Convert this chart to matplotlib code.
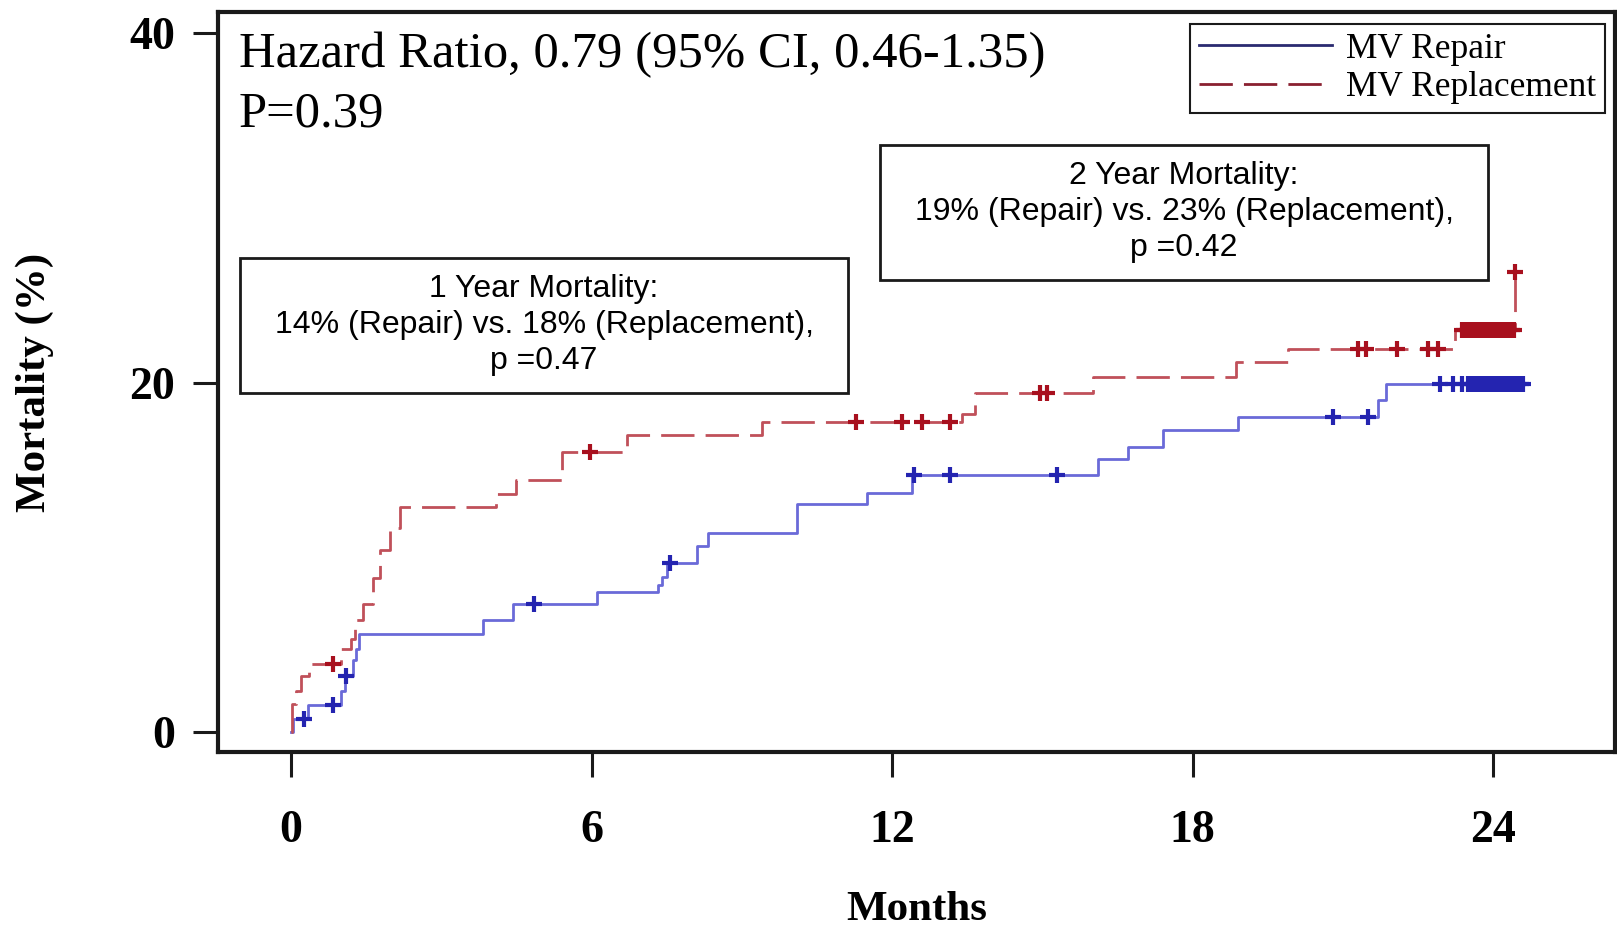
import numpy as np
import matplotlib
matplotlib.use("Agg")
import matplotlib.pyplot as plt
from matplotlib.patches import Rectangle

# Kaplan-Meier style steps (months, mortality %)
repair_t = [0, 0.04, 0.33, 1.0, 1.07, 1.23, 1.3, 1.36, 3.83, 4.43, 6.1, 7.33, 7.4, 7.5,
            8.1, 8.33, 10.1, 11.5, 12.4, 16.1, 16.7, 17.4, 18.9, 21.7, 21.85, 24.6]
repair_m = [0, 0.75, 1.55, 2.35, 3.2, 4.1, 4.75, 5.6, 6.4, 7.3, 8.0, 8.4, 8.9, 9.7,
            10.66, 11.4, 13.07, 13.7, 14.7, 15.6, 16.3, 17.3, 18.0, 19.0, 19.9, 19.9]
repair_cens = [0.26, 0.83, 1.1, 4.86, 7.57, 12.43, 13.15, 15.3, 20.8, 21.5, 22.93, 23.2,
               23.37, 23.5, 23.55, 23.6, 23.65, 23.7, 23.75, 23.8, 23.85, 23.9, 23.95, 24.0,
               24.05, 24.1, 24.15, 24.2, 24.25, 24.3, 24.35, 24.4, 24.45, 24.5, 24.55, 24.6]

replace_t = [0, 0.02, 0.1, 0.2, 0.36, 1.0, 1.2, 1.27, 1.43, 1.63, 1.77, 1.97, 2.17, 4.1,
             4.5, 5.4, 6.7, 9.4, 13.4, 13.66, 16.0, 18.86, 19.9, 23.23, 24.43]
replace_m = [0, 1.6, 2.35, 3.2, 3.9, 4.75, 5.3, 6.4, 7.3, 8.8, 10.4, 11.7, 12.9, 13.6,
             14.4, 16.0, 17.0, 17.76, 18.2, 19.4, 20.3, 21.2, 21.9, 23.0, 26.3]
replace_cens = [0.83, 5.96, 11.27, 12.2, 12.6, 13.15, 14.96, 15.1, 21.3, 21.46, 22.07,
                22.7, 22.9, 23.37, 23.42, 23.47, 23.52, 23.57, 23.62, 23.67, 23.72, 23.77,
                23.82, 23.87, 23.92, 23.97, 24.02, 24.07, 24.12, 24.17, 24.22, 24.27,
                24.32, 24.37, 24.42, 24.43]

x_ticks = [0, 6, 12, 18, 24]
y_ticks = [0, 20, 40]

serif = ["Liberation Serif", "DejaVu Serif"]
sans = ["Liberation Sans", "DejaVu Sans"]


def level_at(times, vals, c):
    i = np.searchsorted(times, c, side="right") - 1
    return np.array(vals)[i]


fig = plt.figure(figsize=(16.17, 9.33), dpi=100)
ax = fig.add_axes([218 / 1617, 1 - 752 / 933, 1397 / 1617, 740 / 933])

ax.step(repair_t, repair_m, where="post", color="#6a6ad8", lw=2, label="MV Repair")
ax.plot(repair_cens, level_at(repair_t, repair_m, repair_cens), ls="none",
        marker="+", ms=12, mew=3, color="#2424b0")

ax.step(replace_t, replace_m, where="post", color="#c0505a", lw=2,
        dashes=(12, 4), label="MV Replacement")
ax.plot(replace_cens, level_at(replace_t, replace_m, replace_cens), ls="none",
        marker="+", ms=12, mew=3, color="#a8101e")

ax.set_xlim(-1.457, 26.43)
ax.set_ylim(-1.14, 41.2)
ax.set_xticks(x_ticks)
ax.set_yticks(y_ticks)
for s in ax.spines.values():
    s.set_linewidth(3)
    s.set_color("#1a1a1a")
ax.tick_params(axis="both", length=18, width=2.2, color="#1a1a1a")
ax.tick_params(axis="x", pad=24)
ax.tick_params(axis="y", pad=13)
for lab in ax.get_xticklabels() + ax.get_yticklabels():
    lab.set_fontfamily(serif)
    lab.set_fontweight("bold")
    lab.set_fontsize(33)

ax.set_xlabel("Months", family=serif, fontweight="bold", fontsize=31, va="center")
ax.xaxis.set_label_coords(0.5, -0.213)
ax.set_ylabel("Mortality (%)", family=serif, fontweight="bold", fontsize=31, va="center")
ax.yaxis.set_label_coords(-0.131, 0.5)

ax.text(0.015, 0.9257, "Hazard Ratio, 0.79 (95% CI, 0.46-1.35)", transform=ax.transAxes,
        family=serif, fontsize=36.5, va="baseline", ha="left")
ax.text(0.015, 0.8446, "P=0.39", transform=ax.transAxes,
        family=serif, fontsize=36.5, va="baseline", ha="left")

# annotation boxes
ax.add_patch(Rectangle((0.0157, 0.485), 0.451 - 0.0157, 0.6676 - 0.485, transform=ax.transAxes,
                       fill=False, lw=2, ec="#1a1a1a"))
ax.text(0.2334, 0.577, "1 Year Mortality:\n14% (Repair) vs. 18% (Replacement),\np =0.47",
        transform=ax.transAxes, family=sans, fontsize=23, ha="center", va="center",
        multialignment="center", linespacing=1.27)
ax.add_patch(Rectangle((0.474, 0.638), 0.909 - 0.474, 0.820 - 0.638, transform=ax.transAxes,
                       fill=False, lw=2, ec="#1a1a1a"))
ax.text(0.6915, 0.7297, "2 Year Mortality:\n19% (Repair) vs. 23% (Replacement),\np =0.42",
        transform=ax.transAxes, family=sans, fontsize=23, ha="center", va="center",
        multialignment="center", linespacing=1.27)

leg = ax.legend(loc="upper right", bbox_to_anchor=(0.9928, 0.9838), borderaxespad=0,
                prop={"family": serif, "size": 25.5}, handlelength=3.75, handletextpad=0.4,
                labelspacing=0.15, borderpad=0.25, fancybox=False, framealpha=1,
                edgecolor="#1a1a1a")
leg.get_frame().set_linewidth(1.5)
leg.get_lines()[0].set_color("#2a2a70")
leg.get_lines()[1].set_color("#8a2030")

fig.savefig("out.png", dpi=100)
